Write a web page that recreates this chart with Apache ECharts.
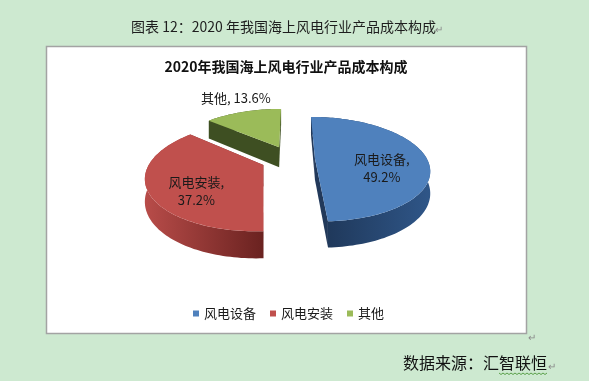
<!DOCTYPE html>
<html><head><meta charset="utf-8">
<script src="https://cdn.jsdelivr.net/npm/echarts@6/dist/echarts.min.js"></script>
<style>html,body{margin:0;padding:0;background:#cde9d0}#c{width:589px;height:381px}</style>
</head><body><div id="c"></div>
<script>
// ---- data ----
const categories = ['风电设备', '风电安装', '其他'];
const values = [49.2, 37.2, 13.6];
const chartTitle = '2020年我国海上风电行业产品成本构成';
const figureCaption = '图表 12：2020 年我国海上风电行业产品成本构成';
const sourceNote = '数据来源：汇智联恒';

// ---- style / layout ----
const topColors = ['#4f81bd', '#c0504d', '#9bbb59'];
const bandColors = [['#1d3454', '#2f5688'], ['#b84c49', '#6a2220'], ['#4a5e28', '#34441b']];
const wallColors = ['#22395a', '#7a2a28', '#3e4f22'];
const explode = [24, 30, 30];
const G = { X0: 291, Y0: 159, R: 112, c: 0.449, p: 0.2, h: 21 };
const FONT = "'Noto Sans CJK SC', 'Noto Sans', sans-serif";

const total = values.reduce((a, b) => a + b, 0);
const starts = [];
{ let acc = 0; values.forEach(v => { starts.push(acc / total * 2 * Math.PI); acc += v; }); }

function proj(X, Z, down) {
  const k = 1 / (1 - G.p * Z / G.R);
  return [G.X0 + X * k, G.Y0 + (Z * G.c + (down || 0)) * k];
}

function renderSlice(i, api) {
  const v = api.value(0);
  const a0 = starts[i], a1 = a0 + v / total * 2 * Math.PI, m = (a0 + a1) / 2;
  const ex = explode[i] * Math.sin(m), ez = -explode[i] * Math.cos(m);
  const n = Math.max(6, Math.ceil((a1 - a0) / (Math.PI / 120)));
  const rim = [];
  for (let j = 0; j <= n; j++) {
    const t = a0 + (a1 - a0) * j / n;
    rim.push([ex + G.R * Math.sin(t), ez - G.R * Math.cos(t)]);
  }
  const top = rim.map(w => proj(w[0], w[1], 0));
  const bot = rim.map(w => proj(w[0], w[1], G.h));
  const cT = proj(ex, ez, 0), cB = proj(ex, ez, G.h);
  const children = [];
  children.push({ type: 'polygon', shape: { points: top.concat(bot.slice().reverse()) },
    style: { fill: { type: 'linear', x: 0, y: 0, x2: 1, y2: 0,
      colorStops: [{ offset: 0, color: bandColors[i][0] }, { offset: 1, color: bandColors[i][1] }] } } });
  children.push({ type: 'polygon', shape: { points: [cT, top[0], bot[0], cB] }, style: { fill: wallColors[i] } });
  children.push({ type: 'polygon', shape: { points: [cT, top[n], bot[n], cB] }, style: { fill: wallColors[i] } });
  children.push({ type: 'polygon', shape: { points: [cT].concat(top) }, style: { fill: topColors[i] } });
  const pct = v.toFixed(1) + '%';
  if (v / total >= 0.2) {
    const r = 0.6 * G.R;
    const X = ex + r * Math.sin(m), Z = ez - r * Math.cos(m);
    const pt = proj(X, Z, G.h / 2);
    children.push({ type: 'text', style: { text: categories[i] + ',\n' + pct, x: pt[0], y: pt[1],
      align: 'center', verticalAlign: 'middle', lineHeight: 18, font: '13px ' + FONT, fill: '#1a1a1a' } });
  } else {
    const r = 1.25 * G.R;
    const X = ex + r * Math.sin(m), Z = ez - r * Math.cos(m);
    const pt = proj(X, Z, 0);
    children.push({ type: 'text', style: { text: categories[i] + ', ' + pct, x: pt[0], y: pt[1],
      align: 'center', verticalAlign: 'bottom', font: '13px ' + FONT, fill: '#1a1a1a' } });
  }
  return { type: 'group', children };
}

const drawOrder = [2, 1, 0];
const series = drawOrder.map(i => ({
  type: 'custom', name: categories[i], coordinateSystem: 'none',
  itemStyle: { color: topColors[i] },
  data: [[values[i]]],
  renderItem: (params, api) => renderSlice(i, api)
}));

// decorative wavy underline under the source name
const wave = [];
for (let x = 499; x <= 547; x += 2) wave.push([x, 373 + ((x - 499) / 2 % 2 ? 1.5 : 0)]);

const chart = echarts.init(document.getElementById('c'), null, { renderer: 'canvas' });
chart.setOption({
  backgroundColor: '#cde9d0',
  animation: false,
  legend: {
    data: categories, left: 188, top: 302, icon: 'rect', itemWidth: 6, itemHeight: 6, itemGap: 14,
    textStyle: { fontSize: 13, fontFamily: FONT, color: '#1a1a1a' }
  },
  graphic: [
    { type: 'rect', z: 0, shape: { x: 46.5, y: 46.5, width: 480, height: 287 },
      style: { fill: '#ffffff', stroke: '#a3a3a3', lineWidth: 1.5 } },
    { type: 'text', z: 5, style: { text: figureCaption, x: 131, y: 27, verticalAlign: 'middle',
      font: '14px ' + FONT, fill: '#1e1e1e' } },
    { type: 'text', z: 5, style: { text: '↵', x: 435, y: 29, verticalAlign: 'middle', font: '10px ' + FONT, fill: '#8a8a8a' } },
    { type: 'text', z: 5, style: { text: chartTitle, x: 286, y: 67, align: 'center', verticalAlign: 'middle',
      font: 'bold 14px ' + FONT, fill: '#111111' } },
    { type: 'text', z: 5, style: { text: '↵', x: 528, y: 337, verticalAlign: 'middle', font: '10px ' + FONT, fill: '#8a8a8a' } },
    { type: 'text', z: 5, style: { text: sourceNote, x: 403, y: 363, verticalAlign: 'middle',
      font: '16px ' + FONT, fill: '#111111' } },
    { type: 'text', z: 5, style: { text: '↵', x: 548, y: 366, verticalAlign: 'middle', font: '10px ' + FONT, fill: '#8a8a8a' } },
    { type: 'polyline', z: 5, shape: { points: wave }, style: { stroke: '#5aa04a', lineWidth: 1, fill: null } }
  ],
  series
});
</script></body></html>
